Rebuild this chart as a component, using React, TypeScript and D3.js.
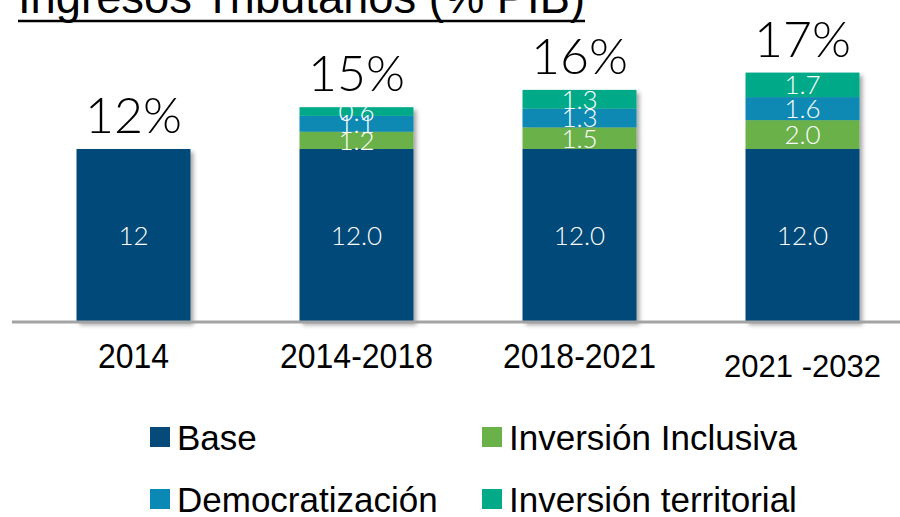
import React from 'react';
import * as d3 from 'd3';

// --- Data ---
const categories = ['2014', '2014-2018', '2018-2021', '2021 -2032'];
const base = [12, 12, 12, 12];
const baseLabels = ['12', '12.0', '12.0', '12.0'];
const inclusiva = [0, 1.2, 1.5, 2.0];
const democratizacion = [0, 1.1, 1.3, 1.6];
const territorial = [0, 0.6, 1.3, 1.7];
const totals = ['12%', '15%', '16%', '17%'];

const seriesNames = ['Base', 'Inversión Inclusiva', 'Democratización', 'Inversión territorial'];
const colors = ['#054a78', '#6ab14a', '#0a89b4', '#02aa88'];

const W = 900;
const H = 517;
const LIGHT = 'Lato, Roboto, "Liberation Sans", sans-serif';
const SANS = '"Liberation Sans", Arial, sans-serif';

export default function App() {
    const x = d3.scaleBand<string>()
        .domain(categories)
        .range([22, 914])
        .paddingInner(0.489)
        .paddingOuter(0.2445);
    const y = d3.scaleLinear().domain([0, 12]).range([322, 149]);

    const rows = categories.map((c, i) => ({
        cat: c,
        Base: base[i],
        'Inversión Inclusiva': inclusiva[i],
        'Democratización': democratizacion[i],
        'Inversión territorial': territorial[i],
    }));
    const stack = d3.stack<any>().keys(seriesNames)(rows);

    const legend = [
        { name: 'Base', x: 150, y: 437 },
        { name: 'Inversión Inclusiva', x: 482, y: 437 },
        { name: 'Democratización', x: 150, y: 499 },
        { name: 'Inversión territorial', x: 482, y: 499 },
    ];

    return (
        <svg width={W} height={H} style={{ position: 'absolute', left: 0, top: 0, background: '#fff' }}>
            <defs>
                <filter id="shadow" x="-10%" y="-10%" width="130%" height="130%">
                    <feDropShadow dx="3" dy="3" stdDeviation="2" floodColor="#000" floodOpacity="0.35" />
                </filter>
            </defs>

            {/* title, cut off at the top */}
            <text x={18} y={13} fontFamily={SANS} fontSize={46} fill="#000"
                textLength={567} lengthAdjust="spacingAndGlyphs">Ingresos Tributarios (% PIB)</text>
            <line x1={18} x2={585} y1={21} y2={21} stroke="#000" strokeWidth={2.5} />

            {/* bars */}
            <g filter="url(#shadow)">
                {categories.map((c, i) => (
                    <g key={c}>
                        {stack.map((s, k) => {
                            const d = s[i];
                            if (d[1] - d[0] <= 0) return null;
                            return (
                                <rect key={k} x={x(c)} width={x.bandwidth()}
                                    y={y(d[1])} height={y(d[0]) - y(d[1])} fill={colors[k]} />
                            );
                        })}
                    </g>
                ))}
            </g>

            {/* segment labels */}
            {categories.map((c, i) => (
                <g key={c} fontFamily={LIGHT} fontWeight={300} fill="#fff" textAnchor="middle">
                    {stack.map((s, k) => {
                        const d = s[i];
                        if (d[1] - d[0] <= 0) return null;
                        const label = k === 0 ? baseLabels[i] : (d[1] - d[0]).toFixed(1);
                        return (
                            <text key={k} x={x(c)! + x.bandwidth() / 2} y={(y(d[0]) + y(d[1])) / 2}
                                dy="0.36em" fontSize={26}>{label}</text>
                        );
                    })}
                </g>
            ))}

            {/* totals */}
            {categories.map((c, i) => {
                const top = stack[stack.length - 1][i][1];
                return (
                    <text key={c} x={x(c)! + x.bandwidth() / 2} y={y(top) - 16} textAnchor="middle"
                        fontFamily={LIGHT} fontWeight={300} fontSize={50} fill="#000">{totals[i]}</text>
                );
            })}

            {/* axis */}
            <line x1={12} x2={W} y1={y(0)} y2={y(0)} stroke="#a3a3a3" strokeWidth={3} />
            {categories.map((c, i) => {
                const cx = x(c)! + x.bandwidth() / 2;
                const last = i === categories.length - 1;
                return (
                    <text key={c} x={cx} y={last ? 377 : 368} textAnchor="middle"
                        fontFamily={SANS} fontSize={last ? 31 : 32} fill="#000"
                        transform={last ? undefined : `translate(0 ${-368 * 0.12}) scale(1 1.12)`}>{c}</text>
                );
            })}

            {/* legend */}
            {legend.map(l => (
                <g key={l.name}>
                    <rect x={l.x} y={l.y - 10} width={20} height={20} fill={colors[seriesNames.indexOf(l.name)]} />
                    <text x={l.x + 27} y={l.y} dy="0.36em" fontFamily={SANS} fontSize={35} fill="#000">{l.name}</text>
                </g>
            ))}
        </svg>
    );
}
